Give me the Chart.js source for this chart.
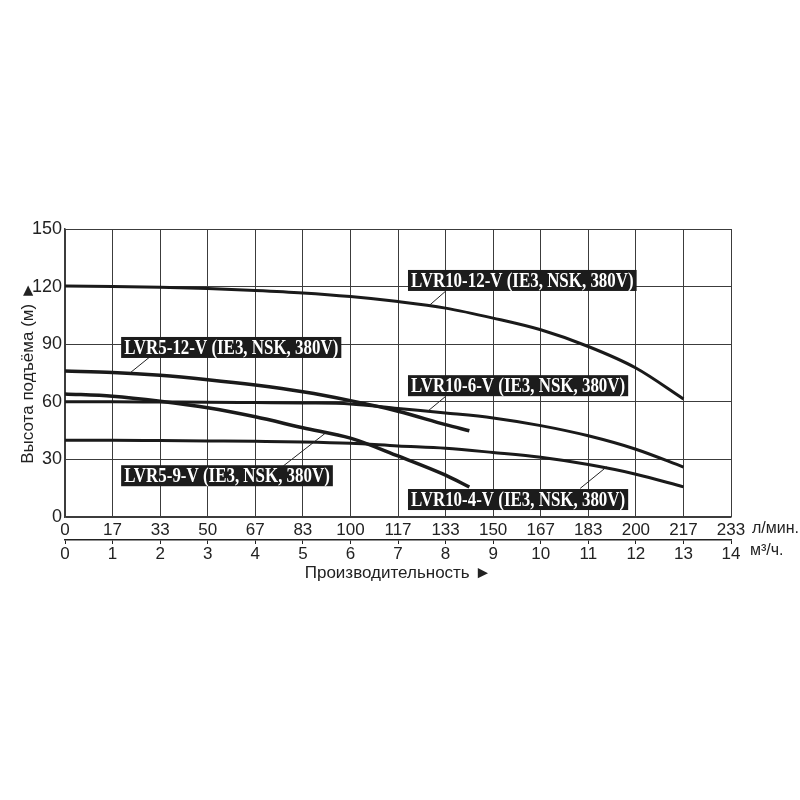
<!DOCTYPE html>
<html><head><meta charset="utf-8">
<script src="https://cdn.jsdelivr.net/npm/chart.js@4.4.0/dist/chart.umd.min.js"></script>
<style>html,body{margin:0;padding:0;background:#fff}canvas{display:block}</style>
</head><body>
<canvas id="c" width="800" height="800" style="width:800px;height:800px"></canvas>
<script>
// ---- data ----
const flowTicksM3h = [0,1,2,3,4,5,6,7,8,9,10,11,12,13,14];
const flowTicksLpm = ['0','17','33','50','67','83','100','117','133','150','167','183','200','217','233'];
const headTicks = [0,30,60,90,120,150];
const seriesNames = ['LVR10-12-V (IE3, NSK, 380V)','LVR5-12-V (IE3, NSK, 380V)','LVR10-6-V (IE3, NSK, 380V)','LVR5-9-V (IE3, NSK, 380V)','LVR10-4-V (IE3, NSK, 380V)'];
const flowLVR10 = [0,1,2,3,4,5,6,7,8,9,10,11,12,13];
const flowLVR5 = [0,1,2,3,4,5,6,7,8,8.5];
const headLVR10_12 = [120.3,120,119.7,119,118,116.7,114.8,112.2,108.8,103.6,97.5,88.8,77.6,61.5];
const headLVR5_12 = [76,75.3,73.8,71.5,68.7,65.2,60.6,55.1,48.1,44.9];
const headLVR10_6 = [60,60,59.9,59.8,59.6,59.4,58.9,56.5,54.2,51.6,47.6,42.3,35.3,26];
const headLVR5_9 = [64.1,62.9,60.3,56.9,52.2,46.5,41.1,31.8,21.8,15.6];
const headLVR10_4 = [40,40,39.8,39.6,39.4,39.1,38.4,37,35.8,33.6,31.1,27.3,22.3,15.7];

const pts = (xs, ys) => xs.map((x, i) => ({x: x, y: ys[i]}));

// ---- annotation layout (data units) ----
const labelBoxes = [
  {text: seriesNames[0], x: 7.21, y: 123.2, from: [8.0, 117.6], to: [7.64, 109.8]},
  {text: seriesNames[1], x: 1.18, y: 88.3, from: [1.79, 83.5], to: [1.37, 75.1]},
  {text: seriesNames[2], x: 7.21, y: 68.4, from: [7.99, 62.6], to: [7.64, 55.4]},
  {text: seriesNames[3], x: 1.18, y: 21.5, from: [5.47, 43.6], to: [4.59, 26.6]},
  {text: seriesNames[4], x: 7.21, y: 9.1, from: [11.39, 26.2], to: [10.83, 14.9]}
];

const FONT = '"Liberation Sans", Arial, sans-serif';
const INK = '#1a1a1a';
const GRID = '#3c3c3c';

const annot = {
  id: 'annot',
  afterDatasetsDraw(chart) {
    const ctx = chart.ctx, xs = chart.scales.x, ys = chart.scales.y;
    ctx.save();
    // leader lines
    ctx.strokeStyle = '#222';
    ctx.lineWidth = 1;
    labelBoxes.forEach(b => {
      ctx.beginPath();
      ctx.moveTo(xs.getPixelForValue(b.from[0]), ys.getPixelForValue(b.from[1]));
      ctx.lineTo(xs.getPixelForValue(b.to[0]), ys.getPixelForValue(b.to[1]));
      ctx.stroke();
    });
    // label boxes
    const sx = 0.846;
    ctx.font = 'bold 20px "Liberation Serif", "Times New Roman", serif';
    labelBoxes.forEach(b => {
      const w = ctx.measureText(b.text).width * sx;
      const px = xs.getPixelForValue(b.x), py = ys.getPixelForValue(b.y);
      const h = 21;
      ctx.fillStyle = '#1c1c1c';
      ctx.fillRect(px, py - h / 2, w + 6, h);
      ctx.save();
      ctx.translate(px + 3, py + 1);
      ctx.scale(sx, 1);
      ctx.fillStyle = '#fff';
      ctx.textBaseline = 'middle';
      ctx.textAlign = 'left';
      ctx.fillText(b.text, 0, 0);
      ctx.restore();
    });
    // unit labels
    ctx.fillStyle = '#222';
    ctx.font = '16px ' + FONT;
    ctx.textBaseline = 'middle';
    ctx.textAlign = 'left';
    const x2 = chart.scales.x2;
    ctx.fillText('л/мин.', chart.chartArea.right + 21, chart.scales.x.top + 12);
    ctx.fillText('м³/ч.', chart.chartArea.right + 19, x2.top + 11);
    ctx.restore();
  }
};

const lineDs = (label, data, w) => ({
  label: label, data: data, borderColor: INK, borderWidth: w,
  pointRadius: 0, fill: false, tension: 0.4, cubicInterpolationMode: 'monotone'
});

new Chart(document.getElementById('c'), {
  type: 'line',
  data: {
    datasets: [
      lineDs(seriesNames[0], pts(flowLVR10, headLVR10_12), 3),
      lineDs(seriesNames[1], pts(flowLVR5, headLVR5_12), 3.5),
      lineDs(seriesNames[2], pts(flowLVR10, headLVR10_6), 3),
      lineDs(seriesNames[3], pts(flowLVR5, headLVR5_9), 3.5),
      lineDs(seriesNames[4], pts(flowLVR10, headLVR10_4), 3)
    ]
  },
  options: {
    responsive: false,
    animation: false,
    devicePixelRatio: 1,
    layout: {padding: {top: 229, right: 69, bottom: 214, left: 0}},
    plugins: {legend: {display: false}, tooltip: {enabled: false}},
    scales: {
      x: {
        type: 'linear', position: 'bottom', weight: 0,
        min: 0, max: 14,
        afterBuildTicks: s => { s.ticks = flowTicksM3h.map(v => ({value: v})); },
        ticks: {
          callback: (v, i) => flowTicksLpm[i],
          font: {size: 17, family: FONT}, color: '#222', padding: 3, maxRotation: 0, autoSkip: false
        },
        grid: {color: GRID, lineWidth: 1, drawTicks: false},
        border: {color: GRID, width: 1.5},
        afterFit: s => { s.height = 23; }
      },
      x2: {
        type: 'linear', position: 'bottom', weight: 1,
        min: 0, max: 14,
        afterBuildTicks: s => { s.ticks = flowTicksM3h.map(v => ({value: v})); },
        ticks: {
          callback: (v, i) => String(flowTicksM3h[i]),
          font: {size: 17, family: FONT}, color: '#222', padding: 0, maxRotation: 0, autoSkip: false
        },
        grid: {drawOnChartArea: false, color: '#222', tickLength: 4},
        border: {color: '#222', width: 1.5},
        title: {display: true, text: 'Производительность ►', font: {size: 17, family: FONT}, color: '#222', padding: {top: 0, bottom: 2}},
        afterFit: s => { s.height = 46; }
      },
      y: {
        type: 'linear', position: 'left',
        min: 0, max: 150,
        afterBuildTicks: s => { s.ticks = headTicks.map(v => ({value: v})); },
        ticks: {font: {size: 18, family: FONT}, color: '#222', padding: 3},
        grid: {color: GRID, lineWidth: 1, drawTicks: false},
        border: {color: GRID, width: 1.5},
        title: {display: true, text: 'Высота подъёма (м) ►', font: {size: 17, family: FONT}, color: '#222', padding: {top: 18, bottom: 0}},
        afterFit: s => { s.width = 65; }
      }
    }
  },
  plugins: [annot]
});
</script>
</body></html>
